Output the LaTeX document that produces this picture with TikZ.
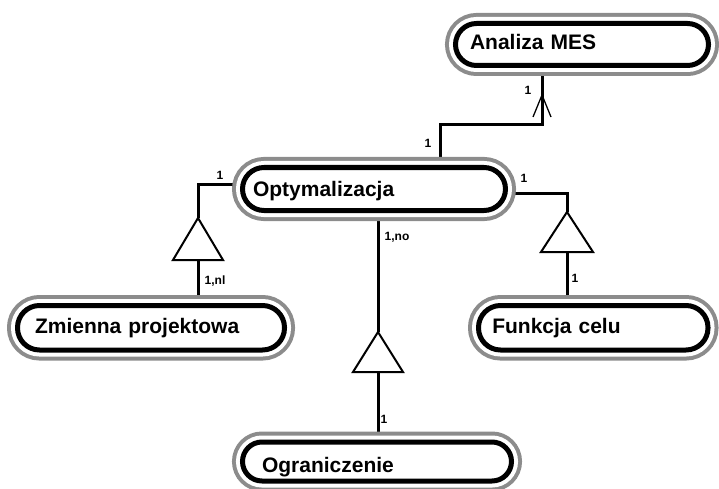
\documentclass[tikz,border=0pt]{standalone}
\usepackage{fontspec}
\setmainfont{Liberation Sans}
\usetikzlibrary{backgrounds}
\definecolor{rimgray}{RGB}{140,140,140}
\tikzset{
  entity/.style={
    draw=black, line width=5pt, fill=white,
    preaction={draw=rimgray, line width=21pt},
    preaction={draw=white, line width=13pt},
    rectangle, inner ysep=0pt, outer sep=0pt,
    font=\bfseries\fontsize{21}{24}\selectfont,
    text height=15pt, text depth=4pt, align=left
  },
  link/.style={line width=3pt},
  crow/.style={line width=1.3pt},
  tri/.style={draw=black, fill=white, line width=2pt, line join=miter},
  card/.style={font=\bfseries\fontsize{12}{14}\selectfont, inner sep=0pt}
}
\begin{document}
\begin{tikzpicture}[x=1pt, y=-1pt]
\useasboundingbox (0,0) rectangle (719,489);
\clip (0,0) rectangle (719,489);

% entities: path width/height, rounded ends of radius height/2
\node[entity, minimum width=253pt, minimum height=42pt, rounded corners=21pt,
      inner xsep=14.5pt, text width=224pt] (ana) at (582,44.5) {Analiza MES};
\node[entity, minimum width=263pt, minimum height=43pt, rounded corners=21.5pt,
      inner xsep=10.5pt, text width=242pt, text height=16pt, text depth=2pt] (opt) at (374,189) {Optymalizacja};
\node[entity, minimum width=267pt, minimum height=44.5pt, rounded corners=22pt,
      inner xsep=17.5pt, text width=232pt] (zm) at (151,327.75) {Zmienna projektowa};
\node[entity, minimum width=229.5pt, minimum height=44.5pt, rounded corners=22pt,
      inner xsep=13.5pt, text width=202pt] (fun) at (593.25,327.75) {Funkcja celu};
\node[entity, minimum width=269pt, minimum height=39pt, rounded corners=19.5pt,
      inner xsep=19.5pt, text width=230pt, text height=21pt, text depth=0pt] (ogr) at (377,461.5) {Ograniczenie};

% bend points, triangle apexes and base centres
\coordinate (a1) at (542,125);
\coordinate (a2) at (440,125);
\coordinate (cf) at (542,95);
\coordinate (l1) at (198,184);
\coordinate (lt) at (198,218);
\coordinate (lb) at (198,260);
\coordinate (mt) at (378,332);
\coordinate (mb) at (378,372);
\coordinate (r1) at (567,193);
\coordinate (rt) at (567,212);
\coordinate (rb) at (567,252);

\begin{scope}[on background layer]
  \draw[link] (ana.south -| a1) -- (a1) -- (a2) -- (opt.north -| a2);
  \draw[link] (opt.west |- l1) -- (l1) -- (lt);
  \draw[link] (lb) -- (zm.north -| lb);
  \draw[link] (opt.south -| mt) -- (mt);
  \draw[link] (mb) -- (ogr.north -| mb);
  \draw[link] (opt.east |- r1) -- (r1) -- (rt);
  \draw[link] (rb) -- (fun.north -| rb);
\end{scope}

% crow's foot under Analiza MES
\draw[crow] (cf) -- ++(-9,22) (cf) -- ++(9,22);

% generalisation triangles
\draw[tri] (lt) -- ++(-25,42) -- ++(50,0) -- cycle;
\draw[tri] (mt) -- ++(-25,40) -- ++(50,0) -- cycle;
\draw[tri] (rt) -- ++(-26,40) -- ++(52,0) -- cycle;

% cardinalities
\node[card] (c1) at (528,90) {1};
\node[card] (c2) at (428,143) {1};
\node[card] (c3) at (220,175) {1};
\node[card] (c4) at (215,281) {1,nl};
\node[card] (c5) at (524,178) {1};
\node[card] (c6) at (397,237) {1,no};
\node[card] (c7) at (575,278) {1};
\node[card] (c8) at (384,419) {1};
\end{tikzpicture}
\end{document}
